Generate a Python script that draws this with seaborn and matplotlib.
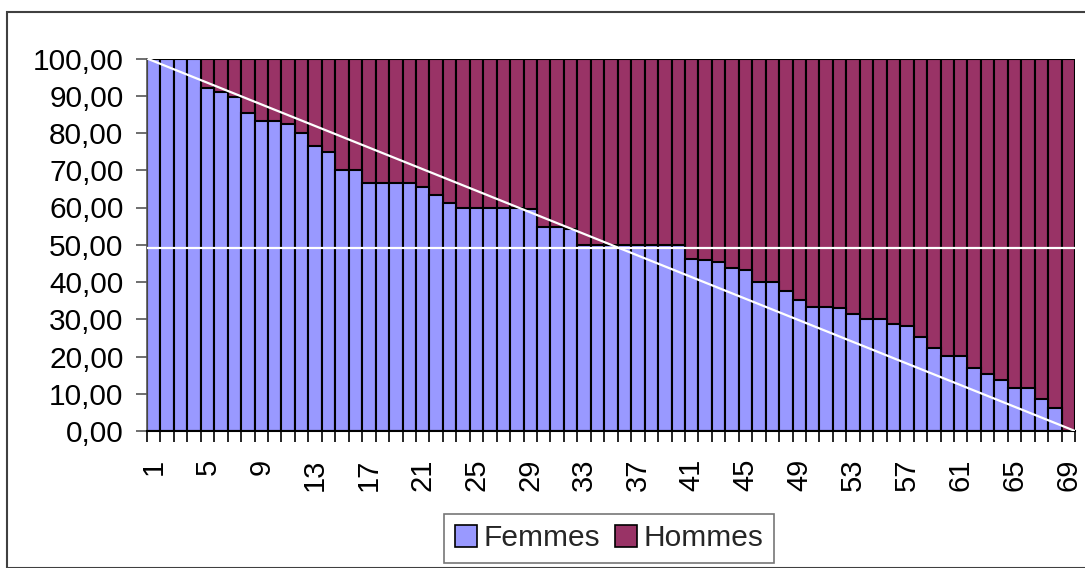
import numpy as np
import pandas as pd
import matplotlib
matplotlib.use("Agg")
import matplotlib.pyplot as plt
from matplotlib.patches import Rectangle, Patch
from matplotlib.ticker import FuncFormatter, FixedLocator
import seaborn as sns

# ---- data ----
categories = [str(i) for i in range(1, 70)]
femmes = [100, 100, 100, 100, 92.0, 90.9, 89.7, 85.5, 83.3, 83.3,
          82.4, 80.0, 76.5, 75.0, 70.0, 70.0, 66.7, 66.7, 66.7, 66.7,
          65.5, 63.4, 61.3, 60.0, 60.0, 60.0, 60.0, 60.0, 59.5, 54.7,
          54.7, 54.3, 50.0, 50.0, 50.0, 50.0, 50.0, 50.0, 50.0, 50.0,
          46.2, 46.0, 45.5, 43.7, 43.1, 40.0, 40.0, 37.7, 35.3, 33.3,
          33.3, 32.9, 31.5, 30.1, 30.1, 28.6, 28.1, 25.3, 22.3, 20.1,
          20.1, 16.9, 15.2, 13.8, 11.6, 11.6, 8.7, 6.1, 0.0]
hommes = [round(100 - f, 1) for f in femmes]
ref_level = 49.0          # white horizontal line
diag_values = [100, 0]    # white diagonal line, start/end
series_names = ["Femmes", "Hommes"]
colors = {"Femmes": "#9999FF", "Hommes": "#993366"}
ytick_values = list(range(0, 101, 10))
xlabel_step = 4

df = pd.DataFrame({"cat": categories, "Femmes": femmes, "Hommes": hommes})
df["total"] = df["Femmes"] + df["Hommes"]

sns.set_style("white")
plt.rcParams["font.family"] = ["Liberation Sans", "DejaVu Sans"]

W, H = 1085, 568
fig = plt.figure(figsize=(W / 100, H / 100), dpi=100)
fig.patch.set_facecolor("white")
ax = fig.add_axes([147 / W, 1 - 431 / H, (1075 - 147) / W, (431 - 58.5) / H])

sns.barplot(data=df, x="cat", y="total", color=colors["Hommes"], width=1.0,
            edgecolor="black", linewidth=1.5, saturation=1, ax=ax, order=categories)
sns.barplot(data=df, x="cat", y="Femmes", color=colors["Femmes"], width=1.0,
            edgecolor="black", linewidth=1.5, saturation=1, ax=ax, order=categories)

n = len(categories)
ax.set_xlim(-0.5, n - 0.5)
ax.set_ylim(0, 100)

# reference lines
ax.axhline(ref_level, color="white", linewidth=1.6, zorder=5)
ax.plot([-0.5, n - 0.5], diag_values, color="white", linewidth=1.6, zorder=5)

# y axis
ax.set_yticks(ytick_values)
ax.yaxis.set_major_formatter(FuncFormatter(lambda v, p: f"{v:.2f}".replace(".", ",")))
ax.tick_params(axis="y", which="major", length=8, width=1.2, color="#555555",
               labelsize=21.5, pad=9, left=True, labelcolor="black")

# x axis: labels every 4 categories, ticks at bar boundaries
label_pos = list(range(0, n, xlabel_step))
ax.xaxis.set_major_locator(FixedLocator(label_pos))
ax.set_xticklabels([categories[i] for i in label_pos], rotation=90, fontsize=21)
ax.xaxis.set_minor_locator(FixedLocator(np.arange(-0.5, n, 1.0)))
ax.tick_params(axis="x", which="major", length=0, pad=20, bottom=True, labelcolor="black")
ax.tick_params(axis="x", which="minor", length=8, width=1.2, color="black", bottom=True)
ax.set_xlabel("")
ax.set_ylabel("")

for s in ["top", "right"]:
    ax.spines[s].set_visible(False)
ax.spines["left"].set_color("#555555")
ax.spines["left"].set_linewidth(1.2)
ax.spines["bottom"].set_color("black")
ax.spines["bottom"].set_linewidth(1.5)

# legend
handles = [Patch(facecolor=colors[s], edgecolor="black", linewidth=1.2, label=s)
           for s in series_names]
leg = fig.legend(handles=handles, loc="center", bbox_to_anchor=(609 / W, 1 - 538.5 / H),
                 ncol=2, fontsize=21.5, frameon=True, fancybox=False,
                 handlelength=0.75, handleheight=0.75, handletextpad=0.2,
                 columnspacing=0.5, borderpad=0.35, borderaxespad=0)
leg.get_frame().set_edgecolor("#555555")
leg.get_frame().set_linewidth(1.2)

# outer chart frame
fig.patches.append(Rectangle((7 / W, 0), 1.2, 1 - 12 / H, transform=fig.transFigure,
                             fill=False, edgecolor="#404040", linewidth=1.5))

fig.savefig("out.png", dpi=100, facecolor="white")
